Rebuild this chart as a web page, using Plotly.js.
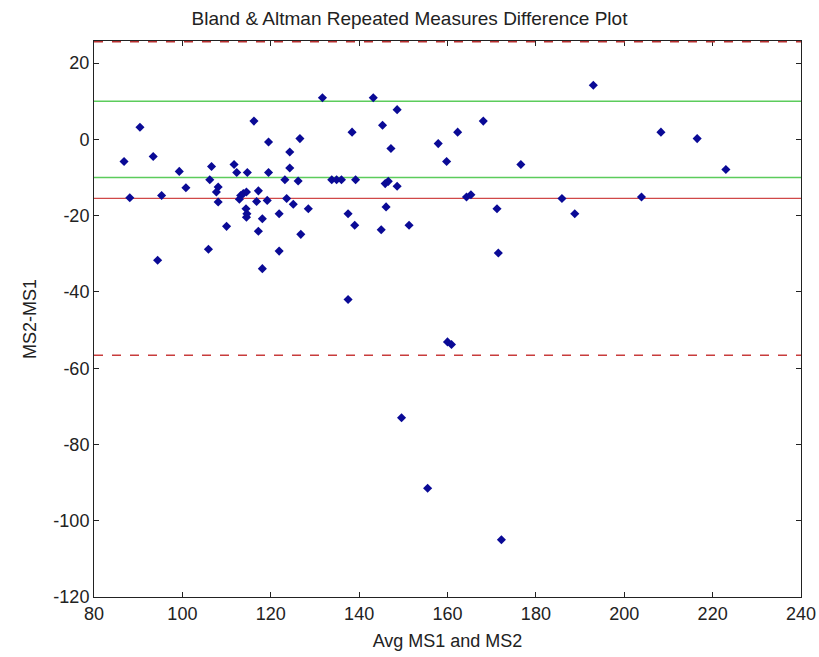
<!DOCTYPE html>
<html>
<head>
<meta charset="utf-8">
<script src="https://cdn.plot.ly/plotly-3.0.1.min.js"></script>
<style>html,body{margin:0;padding:0;background:#fff;}#chart{width:819px;height:657px;}</style>
</head>
<body>
<div id="chart"></div>
<script>
// Data
const avgMS = [90.4,116.2,119.5,86.8,93.4,99.3,106.6,111.7,112.3,114.7,119.5,106.2,108.1,100.8,107.7,88.1,95.3,108.1,113.2,113.8,114.5,112.9,117.2,116.8,119.2,114.4,114.5,114.6,118.1,110.0,117.2,105.9,94.4,118.1,131.7,143.2,148.6,138.4,145.3,162.3,157.9,126.6,124.3,147.2,159.8,124.3,123.2,126.2,133.8,134.9,136.0,139.2,145.9,146.6,148.6,123.6,125.1,128.5,121.9,126.8,121.9,137.5,139.0,146.1,145.0,151.3,164.3,165.3,193.0,168.1,208.3,216.5,176.6,223.0,171.2,185.9,188.8,203.9,137.5,160.0,160.9,172.2,155.5,149.6,171.5];
const diffMS = [3.2,4.8,-0.7,-5.8,-4.5,-8.4,-7.1,-6.6,-8.7,-8.7,-8.7,-10.6,-12.5,-12.7,-13.8,-15.3,-14.7,-16.4,-14.7,-14.2,-13.8,-15.7,-13.5,-16.3,-16.0,-18.2,-20.4,-19.5,-20.8,-22.8,-24.1,-28.8,-31.7,-33.9,10.9,10.9,7.8,1.9,3.7,1.9,-1.1,0.2,-3.3,-2.4,-5.8,-7.5,-10.6,-10.9,-10.6,-10.6,-10.6,-10.6,-11.6,-11.0,-12.3,-15.5,-17.0,-18.2,-19.5,-24.9,-29.3,-19.5,-22.5,-17.7,-23.7,-22.5,-15.1,-14.5,14.2,4.8,1.9,0.2,-6.6,-7.9,-18.2,-15.5,-19.5,-15.1,-42.0,-53.1,-53.8,-105.0,-91.5,-73.0,-29.8];
const xSpan = [80, 240];
const meanDiff = -15.45;
const upperLoA = 25.7;
const lowerLoA = -56.6;
const refUpper = 10;
const refLower = -10;
const xTicks = [80,100,120,140,160,180,200,220,240];
const xTickText = ['80','100','120','140','160','180','200','220','240'];
const yTicks = [20,0,-20,-40,-60,-80,-100,-120];
const yTickText = ['20','0','-20','-40','-60','-80','-100','-120'];

const FONT = '"Liberation Sans Narrow", "Arial Narrow", "Liberation Sans", Arial, sans-serif';

function hline(y, color, dash, w) {
  return {x: xSpan, y: [y, y], mode: 'lines', type: 'scatter',
    line: {color: color, width: w || 1.3, dash: dash}, hoverinfo: 'skip', showlegend: false};
}

const traces = [
  hline(refUpper, '#5ccc5c', 'solid'),
  hline(refLower, '#5ccc5c', 'solid'),
  hline(meanDiff, '#d04848', 'solid'),
  hline(upperLoA, '#b83030', 'dash', 2),
  hline(lowerLoA, '#c83c3c', 'dash', 1.4),
  {x: avgMS, y: diffMS, mode: 'markers', type: 'scatter', showlegend: false,
   marker: {symbol: 'diamond', size: 7, color: '#0a0a96'}}
];

const axisCommon = {
  showgrid: false, zeroline: false, showline: true, linecolor: '#222', linewidth: 1,
  mirror: 'ticks', ticks: 'inside', ticklen: 5, tickcolor: '#222', layer: 'below traces',
  tickfont: {family: FONT, size: 18, color: '#222'}
};

const layout = {
  width: 819, height: 657,
  margin: {l: 94, r: 18, t: 41, b: 60},
  paper_bgcolor: '#fff', plot_bgcolor: '#fff',
  title: {text: 'Bland &amp; Altman Repeated Measures Difference Plot',
    font: {family: FONT, size: 19, color: '#222'}, x: 0.5, xanchor: 'center', y: 0.972, yanchor: 'middle'},
  xaxis: Object.assign({}, axisCommon, {range: [80, 240], tickvals: xTicks, ticktext: xTickText,
    title: {text: 'Avg MS1 and MS2', font: {family: FONT, size: 18, color: '#222'}, standoff: 11}}),
  yaxis: Object.assign({}, axisCommon, {range: [-120, 25.8], tickvals: yTicks, ticktext: yTickText,
    title: {text: 'MS2-MS1', font: {family: FONT, size: 18, color: '#222'}, standoff: 12}}),
  showlegend: false
};

Plotly.newPlot('chart', traces, layout, {displayModeBar: false, staticPlot: true});
</script>
</body>
</html>
